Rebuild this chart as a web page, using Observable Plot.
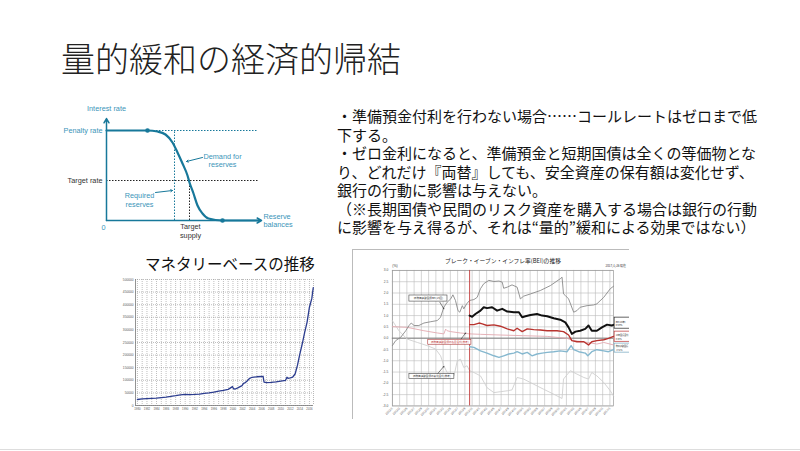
<!DOCTYPE html>
<html><head><meta charset="utf-8">
<script src="https://cdn.jsdelivr.net/npm/d3@7"></script>
<script src="https://cdn.jsdelivr.net/npm/@observablehq/plot@0.6"></script>
<style>
body{margin:0;background:#fff;width:800px;height:451px;overflow:hidden;position:relative;font-family:"Noto Sans CJK JP",sans-serif;}
.abs{position:absolute;}
#title{left:61px;top:41px;font-size:34px;font-family:"Noto Sans CJK JP Light","Noto Sans CJK JP DemiLight","Noto Sans CJK JP",sans-serif;font-weight:300;color:#222;line-height:34px;white-space:nowrap}
#text{left:337px;top:107px;font-size:15px;line-height:18.5px;color:#111;white-space:nowrap}
#text div{height:18.5px}
#mbtitle{left:145px;top:254px;font-size:15.5px;line-height:18px;color:#111;white-space:nowrap}
#c1{left:40px;top:80px;width:280px;height:160px}
#c2{left:110px;top:270px;width:210px;height:145px}
#c3{left:352px;top:249px;width:277px;height:170px;overflow:hidden;border-left:1px solid #bbb;border-top:1px solid #bbb;box-sizing:border-box}
#bottomline{left:0;top:449px;width:800px;height:0;border-top:1px solid #ddd}
svg{overflow:visible}
</style></head>
<body>
<div id="title" class="abs">量的緩和の経済的帰結</div>
<div id="text" class="abs">
<div>・準備預金付利を行わない場合……コールレートはゼロまで低</div>
<div>下する。</div>
<div>・ゼロ金利になると、準備預金と短期国債は全くの等価物とな</div>
<div>り、どれだけ『両替』しても、安全資産の保有額は変化せず、</div>
<div>銀行の行動に影響は与えない。</div>
<div>（※長期国債や民間のリスク資産を購入する場合は銀行の行動</div>
<div>に影響を与え得るが、それは“量的”緩和による効果ではない）</div>
</div>
<div id="mbtitle" class="abs">マネタリーベースの推移</div>
<div id="c1" class="abs"></div>
<div id="c2" class="abs"></div>
<div id="c3" class="abs"></div>
<div id="bottomline" class="abs"></div>
<script>
// ---------- Chart 1: reserve demand curve ----------
const c1CurveX = [0, 41, 51, 59, 66, 71, 76, 81, 83, 87, 91, 96, 102, 116, 152];
const c1CurveY = [90, 90, 89, 86, 78, 68, 57, 45, 38, 27, 15, 7, 2, 0, 0];
const c1PenaltyRate = 90, c1TargetRate = 40, c1Required = 68, c1TargetSupply = 83;

// ---------- Chart 2: monetary base ----------
const mbYear = [1980,1981,1982,1983,1984,1985,1986,1987,1988,1989,1990,1991,1992,1993,1994,1995,1996,1997,1998,1999,1999.9,2000.1,2000.5,2001,2001.9,2002.2,2002.6,2003,2003.5,2004,2005,2006,2006.3,2006.5,2007,2008,2009,2010,2011,2011.3,2011.5,2012,2012.5,2013,2013.5,2014,2014.5,2015,2015.5,2016,2016.5,2016.8];
const mbValue = [23800,26000,27500,28500,29500,31500,33500,36000,39000,42500,44000,43500,43800,45500,48000,50500,53500,57000,60000,64000,75000,66000,65500,70000,79000,88000,91000,98000,108000,112000,114000,115000,116000,93000,91000,92000,94000,97000,100000,112000,108000,110000,113000,125000,160000,205000,245000,290000,330000,390000,425000,468000];
const mbYTicks = [0,50000,100000,150000,200000,250000,300000,350000,400000,450000,500000];
const mbXTicks = [1980,1982,1984,1986,1988,1990,1992,1994,1996,1998,2000,2002,2004,2006,2008,2010,2012,2014,2016];

// ---------- Chart 3: BEI (x = months since 2012/1) ----------
const beiGrayT = [0,0.9,2.3,3.7,4.6,5.2,6.0,7.3,8.7,10.6,12.4,13.3,14.2,15.1,16.1,16.7,17.4,18.1,18.6,19.3,19.7,20.5,21.3,22.5,23.4,24.3,25.2,26.6,28.0,29.4,30.3,30.7,31.7,33.0,34.4,35.3,36.2,38.1,40.8,43.6,46.3,46.8,47.2,47.7,48.6,50.0,50.9,51.8,53.7,55.5,56.4,58.3,60.1,61.0];
const beiGrayV = [-0.33,-0.11,0.04,0.33,0.56,0.67,0.56,0.56,0.67,0.73,0.78,0.93,1.37,1.59,1.74,1.92,1.67,1.22,1.15,1.44,1.30,1.52,1.67,1.71,1.81,2.19,2.41,2.56,2.51,2.53,2.48,2.21,2.26,2.36,2.26,1.74,1.86,1.96,2.11,2.33,2.63,2.70,1.96,1.89,1.74,1.15,1.22,1.37,1.44,1.47,1.52,1.81,2.19,2.30];
const beiT = [21.3,22.0,22.9,24.3,25.2,26.1,27.5,28.9,30.3,31.7,33.5,34.9,35.8,36.7,38.1,39.9,41.3,42.7,44.5,46.3,47.7,48.6,49.5,50.5,51.8,53.2,54.1,55.0,56.4,57.8,59.2,60.5,61.0];
const beiV = [1.00,0.95,1.07,1.22,1.37,1.33,1.37,1.22,1.30,1.18,1.15,1.15,0.93,0.97,1.03,1.07,1.00,0.97,0.88,0.82,0.70,0.48,0.19,0.29,0.33,0.41,0.56,0.33,0.33,0.48,0.60,0.56,0.59];
const nominalT = [21.3,22.5,23.9,24.8,26.1,28.0,29.8,31.7,33.5,34.4,35.8,37.2,39.0,40.8,42.7,45.4,47.2,48.6,49.5,50.9,52.8,54.1,55.0,56.4,58.3,59.6,61.0];
const nominalV = [0.60,0.60,0.67,0.63,0.56,0.59,0.53,0.41,0.33,0.44,0.29,0.41,0.38,0.36,0.33,0.33,0.29,0.14,-0.11,-0.16,-0.16,-0.30,-0.16,-0.11,-0.07,-0.01,0.08];
const realT = [21.3,22.5,24.3,26.1,28.0,29.4,30.7,32.1,33.5,34.4,35.8,37.2,38.5,39.9,41.3,42.7,44.5,46.3,48.2,49.3,50.0,51.4,53.2,53.9,55.0,56.4,58.3,59.6,61.0];
const realV = [-0.38,-0.41,-0.56,-0.66,-0.78,-0.85,-0.78,-0.70,-0.66,-0.60,-0.70,-0.63,-0.78,-0.70,-0.66,-0.63,-0.60,-0.56,-0.60,-0.33,-0.51,-0.60,-0.66,-0.78,-0.60,-0.51,-0.56,-0.60,-0.51];
const oldNominalT = [0,4.1,8.7,12.4,14.2,14.7,15.1,16.1,18.8,21.3,24.3,29.8,36.2,42.7,48.2,50.0,52.8,56.4,58.3,61.0];
const oldNominalV = [0.51,0.48,0.33,0.23,0.19,0.40,0.33,0.29,0.23,0.19,0.17,0.14,0.11,0.08,-0.01,-0.11,-0.16,-0.26,-0.19,-0.30];
const oldRealT = [0,1.8,4.1,6.9,9.6,11.9,13.3,14.2,15.1,16.1,17.0,17.9,18.8,19.7,20.6,21.3,22.5,24.3,26.1,28.0,29.8,31.7,33.0,34.4,36.2,39.0,41.7,44.5,46.8,47.2,49.1,50.9,52.8,54.1,55.0,56.4,58.3,60.1,61.0];
const oldRealV = [0.78,0.33,-0.04,-0.19,-0.33,-0.48,-0.78,-1.22,-1.52,-1.59,-1.67,-1.00,-0.93,-1.30,-1.22,-1.44,-1.52,-1.67,-2.19,-2.41,-2.37,-2.33,-2.29,-1.74,-1.81,-2.04,-2.26,-2.48,-2.67,-1.81,-1.44,-1.59,-1.74,-1.81,-1.52,-1.67,-1.96,-2.33,-2.56];
const beiYTicks = [-3,-2.5,-2,-1.5,-1,-0.5,0,0.5,1,1.5,2,2.5,3];
const beiXTickPos = [0,2,4,6,8,10,12,14,16,18,20,22,24,26,28,30,32,34,36,38,40,42,44,46,48,50,52,54,56,58,60];
const beiXTickLabels = ["2012/1","2012/3","2012/5","2012/7","2012/9","2012/11","2013/1","2013/3","2013/5","2013/7","2013/9","2013/11","2014/1","2014/3","2014/5","2014/7","2014/9","2014/11","2015/1","2015/3","2015/5","2015/7","2015/9","2015/11","2016/1","2016/3","2016/5","2016/7","2016/9","2016/11","2017/1"];
const beiNewIssue = 21.3;

const zip = (xs, ys) => xs.map((x, i) => ({x, y: ys[i]}));

// ---- draw chart 1
const teal = "#17789a", tealText = "#3b95b9", dark = "#333";
const lab = {fontFamily: "'Liberation Sans', Arial, sans-serif", fontSize: 7.3};
const c1 = Plot.plot({
  width: 280, height: 160, margin: 0,
  x: {domain: [-66, 214], axis: null}, y: {domain: [-20, 140], axis: null},
  style: {background: "transparent", fontFamily: "'Liberation Sans', Arial, sans-serif"},
  marks: [
    Plot.ruleY([c1PenaltyRate], {x1: 41, x2: 152, stroke: teal, strokeDasharray: "1.5,1.5", strokeWidth: 1}),
    Plot.ruleY([c1TargetRate], {x1: 0, x2: 152, stroke: "#222", strokeDasharray: "1.5,1.5", strokeWidth: 1}),
    Plot.ruleX([c1Required], {y1: 0, y2: c1PenaltyRate, stroke: teal, strokeDasharray: "1.5,1.5", strokeWidth: 1}),
    Plot.ruleX([c1TargetSupply], {y1: 0, y2: c1TargetRate, stroke: "#222", strokeDasharray: "1.5,1.5", strokeWidth: 1}),
    Plot.arrow([0], {x1: 0, y1: 0, x2: 0, y2: 102, stroke: teal, strokeWidth: 1.5, headLength: 5}),
    Plot.arrow([0], {x1: 0, y1: 0, x2: 155, y2: 0, stroke: teal, strokeWidth: 1.5, headLength: 5}),
    Plot.line(zip(c1CurveX, c1CurveY), {x: "x", y: "y", stroke: teal, strokeWidth: 2.2, curve: "monotone-x"}),
    Plot.dot([zip(c1CurveX, c1CurveY)[1], zip(c1CurveX, c1CurveY)[13]], {x: "x", y: "y", r: 2.3, fill: teal}),
    Plot.arrow([0], {x1: 96, y1: 63, x2: 80, y2: 59, stroke: teal, strokeWidth: 1, headLength: 3}),
    Plot.arrow([0], {x1: 49, y1: 28, x2: 66, y2: 30, stroke: teal, strokeWidth: 1, headLength: 3}),
    Plot.text(["Interest rate"], {x: 0, y: 112, fill: tealText, ...lab}),
    Plot.text(["Penalty rate"], {x: -4, y: c1PenaltyRate, textAnchor: "end", fill: tealText, ...lab}),
    Plot.text(["Target rate"], {x: -4, y: c1TargetRate, textAnchor: "end", fill: dark, ...lab}),
    Plot.text(["0"], {x: -3, y: -7, fill: tealText, ...lab}),
    Plot.text(["Target\nsupply"], {x: 84, y: -10, fill: dark, lineHeight: 1.2, ...lab}),
    Plot.text(["Reserve\nbalances"], {x: 157, y: 0, textAnchor: "start", fill: tealText, lineHeight: 1.15, ...lab}),
    Plot.text(["Demand for\nreserves"], {x: 116, y: 60, fill: tealText, lineHeight: 1.15, ...lab}),
    Plot.text(["Required\nreserves"], {x: 33, y: 20.5, fill: tealText, lineHeight: 1.2, ...lab})
  ]
});
document.getElementById("c1").append(c1);

// ---- draw chart 2
const tiny = {fontFamily: "'Liberation Sans', Arial, sans-serif"};
const c2 = Plot.plot({
  width: 210, height: 145, marginLeft: 25, marginRight: 7, marginTop: 9, marginBottom: 10,
  x: {domain: [1979.6, 2016.85], axis: null}, y: {domain: [0, 500000], axis: null},
  style: {background: "transparent", ...tiny},
  marks: [
    Plot.gridX(d3.range(1980, 2017), {stroke: "#888", strokeOpacity: 0.9, strokeDasharray: "1,1", strokeWidth: 0.6}),
    Plot.gridY(mbYTicks, {stroke: "#888", strokeOpacity: 0.9, strokeDasharray: "1,1", strokeWidth: 0.6}),
    Plot.ruleX([2016.85], {stroke: "#888", strokeDasharray: "1,1", strokeWidth: 0.6}),
    Plot.ruleX([1979.6], {stroke: "#777", strokeWidth: 0.8}),
    Plot.ruleY([0], {stroke: "#777", strokeWidth: 0.8}),
    Plot.line(zip(mbYear, mbValue), {x: "x", y: "y", stroke: "#2c3d8f", strokeWidth: 1.3}),
    Plot.axisY(mbYTicks, {tickSize: 0, tickPadding: 2, fontSize: 3.2, fill: "#555", label: null, tickFormat: d => String(d)}),
    Plot.axisX(mbXTicks, {tickSize: 0, tickPadding: 2.5, fontSize: 2.8, fill: "#555", label: null, tickFormat: d => String(d)})
  ]
});
document.getElementById("c2").append(c2);

// ---- draw chart 3
const tickLabel = new Map(beiXTickPos.map((p, i) => [p, beiXTickLabels[i]]));
const jp = {fontFamily: "'Noto Sans CJK JP', sans-serif"};
const c3 = Plot.plot({
  width: 277, height: 170, marginLeft: 39, marginRight: 16, marginTop: 20, marginBottom: 14,
  x: {domain: [0, 61], axis: null}, y: {domain: [-3, 3], axis: null},
  style: {background: "transparent", ...tiny},
  marks: [
    Plot.gridX(beiXTickPos, {stroke: "#bbb", strokeOpacity: 1, strokeWidth: 0.6}),
    Plot.gridY(beiYTicks, {stroke: "#bbb", strokeOpacity: 1, strokeWidth: 0.6}),
    Plot.frame({stroke: "#999", strokeWidth: 0.7}),
    Plot.ruleY([0], {stroke: "#777", strokeWidth: 0.9}),
    Plot.line(zip(oldRealT, oldRealV), {x: "x", y: "y", stroke: "#cfcfcf", strokeWidth: 0.9}),
    Plot.line(zip(oldNominalT, oldNominalV), {x: "x", y: "y", stroke: "#e2a9b0", strokeWidth: 0.9}),
    Plot.line(zip(beiGrayT, beiGrayV), {x: "x", y: "y", stroke: "#8a8a8a", strokeWidth: 0.9}),
    Plot.ruleX([beiNewIssue], {stroke: "#c23a3a", strokeWidth: 0.9}),
    Plot.line(zip(realT, realV), {x: "x", y: "y", stroke: "#86b8cf", strokeWidth: 1.4}),
    Plot.line(zip(nominalT, nominalV), {x: "x", y: "y", stroke: "#b8332e", strokeWidth: 1.4}),
    Plot.line(zip(beiT, beiV), {x: "x", y: "y", stroke: "#111", strokeWidth: 2}),
    // annotation boxes (left)
    Plot.arrow([0], {x1: 13.1, y1: 1.59, x2: 14.2, y2: 1.30, stroke: "#333", strokeWidth: 0.6, headLength: 2}),
    Plot.arrow([0], {x1: 18.8, y1: -0.07, x2: 20.2, y2: 0.23, stroke: "#333", strokeWidth: 0.6, headLength: 2}),
    Plot.arrow([0], {x1: 12.4, y1: -1.59, x2: 14.2, y2: -1.25, stroke: "#333", strokeWidth: 0.6, headLength: 2}),
    Plot.rect([0], {x1: 4.7, x2: 15.2, y1: 1.62, y2: 1.89, fill: "#fff", stroke: "#444", strokeWidth: 0.6}),
    Plot.text(["旧物価連動国債BEI(16回)"], {x: 9.95, y: 1.755, fontSize: 2.6, fill: "#333", ...jp}),
    Plot.rect([0], {x1: 9.9, x2: 21.8, y1: -0.29, y2: -0.07, fill: "#fff", stroke: "#a33", strokeWidth: 0.6}),
    Plot.text(["旧物価連動国債の名目金利(参考)"], {x: 15.85, y: -0.18, fontSize: 2.6, fill: "#b33", ...jp}),
    Plot.rect([0], {x1: 4.7, x2: 17.1, y1: -1.81, y2: -1.59, fill: "#fff", stroke: "#444", strokeWidth: 0.6}),
    Plot.text(["旧物価連動国債の実質金利(参考)"], {x: 10.9, y: -1.70, fontSize: 2.6, fill: "#333", ...jp}),
    // right-side value boxes (cropped at the image edge as in the source)
    Plot.rect([0], {x1: 61.3, x2: 67, y1: 0.42, y2: 0.91, fill: "#fff", stroke: "#222", strokeWidth: 0.7}),
    Plot.text(["BEI(10年)\n0.59%"], {x: 61.6, y: 0.665, textAnchor: "start", fontSize: 2.3, lineHeight: 1.6, fill: "#222", ...jp}),
    Plot.rect([0], {x1: 61.3, x2: 67, y1: -0.16, y2: 0.29, fill: "#fff", stroke: "#b33", strokeWidth: 0.7}),
    Plot.text(["10年国債金利\n0.08%"], {x: 61.6, y: 0.065, textAnchor: "start", fontSize: 2.1, lineHeight: 1.7, fill: "#333", ...jp}),
    Plot.rect([0], {x1: 61.3, x2: 67, y1: -0.64, y2: -0.24, fill: "#fff", stroke: "#6fa3bd", strokeWidth: 0.7}),
    Plot.text(["物価連動国債\n-0.51%"], {x: 61.6, y: -0.44, textAnchor: "start", fontSize: 2.1, lineHeight: 1.7, fill: "#333", ...jp}),
    // axes
    Plot.axisY(beiYTicks, {tickSize: 0, tickPadding: 4, fontSize: 3.3, fill: "#555", label: null, tickFormat: d => d.toFixed(1)}),
    Plot.axisX(beiXTickPos, {tickSize: 0, tickPadding: 2, fontSize: 3, fill: "#555", label: null, tickRotate: -45, tickFormat: d => tickLabel.get(d)}),
    // titles
    Plot.text(["ブレーク・イーブン・インフレ率(BEI)の推移"], {frameAnchor: "top", dy: -12, fontSize: 5.8, fill: "#222", ...jp}),
    Plot.text(["(%)"], {frameAnchor: "top-left", dy: -6, dx: 0, fontSize: 3.5, fill: "#333"}),
    Plot.text(["2017/1/26 現在"], {frameAnchor: "top-right", dy: -6, dx: -8, textAnchor: "start", fontSize: 3.0, fill: "#333", ...jp})
  ]
});
document.getElementById("c3").append(c3);
</script>
</body></html>
